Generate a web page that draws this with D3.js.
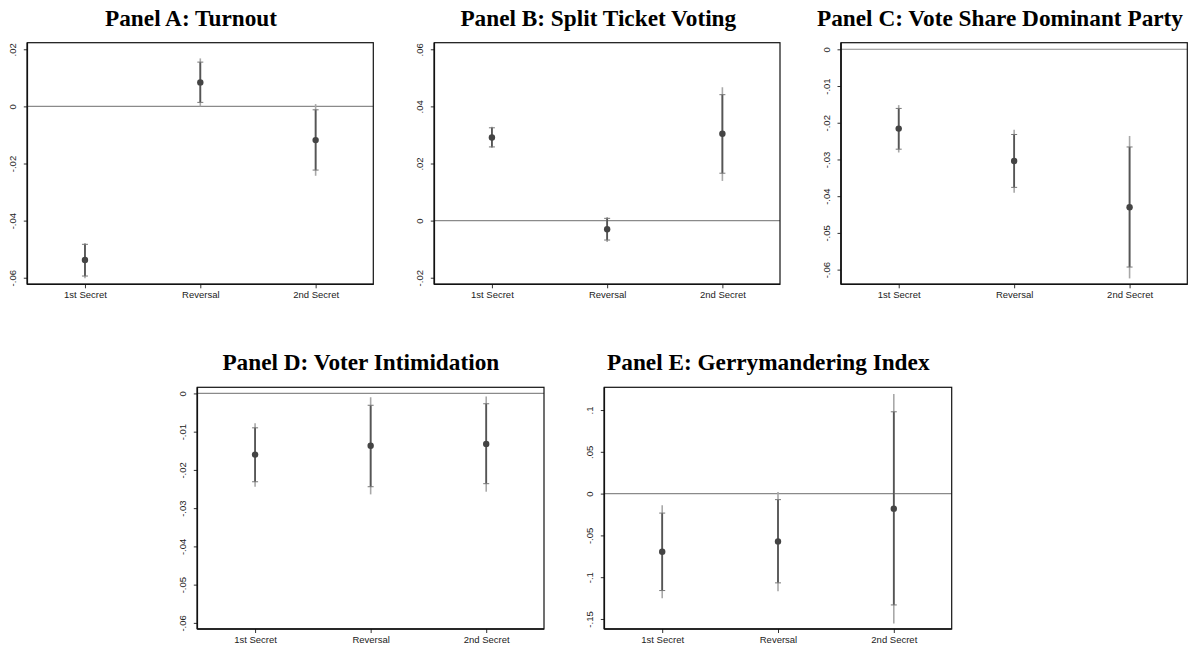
<!DOCTYPE html>
<html>
<head>
<meta charset="utf-8">
<script src="https://cdn.jsdelivr.net/npm/d3@7"></script>
<style>
  html, body { margin: 0; padding: 0; background: #fff; }
  svg { display: block; }
</style>
</head>
<body>
<svg id="chart" width="1198" height="646"></svg>
<script>
// ---------------- DATA ----------------
const categories = ["1st Secret", "Reversal", "2nd Secret"];
const panelTitles = ["Panel A: Turnout", "Panel B: Split Ticket Voting", "Panel C: Vote Share Dominant Party", "Panel D: Voter Intimidation", "Panel E: Gerrymandering Index"];

// Panel A: Turnout
const turnoutEst   = [-0.0538, 0.0084, -0.0118];
const turnoutLo90  = [-0.0594, 0.0014, -0.0223];
const turnoutHi90  = [-0.0483, 0.0155, -0.0012];
const turnoutLo95  = [-0.0602, 0.0000, -0.0243];
const turnoutHi95  = [-0.0478, 0.0168, 0.0008];
const turnoutTicks = [0.02, 0, -0.02, -0.04, -0.06];
const turnoutTickLabels = [".02", "0", "-.02", "-.04", "-.06"];
const turnoutRange = [-0.0623, 0.0223];

// Panel B: Split Ticket Voting
const splitEst   = [0.0291, -0.0030, 0.0304];
const splitLo90  = [0.0258, -0.0068, 0.0166];
const splitHi90  = [0.0325, 0.0008, 0.0441];
const splitLo95  = [0.0254, -0.0075, 0.0139];
const splitHi95  = [0.0329, 0.0013, 0.0467];
const splitTicks = [0.06, 0.04, 0.02, 0, -0.02];
const splitTickLabels = [".06", ".04", ".02", "0", "-.02"];
const splitRange = [-0.0223, 0.0623];

// Panel C: Vote Share Dominant Party
const shareEst   = [-0.0216, -0.0304, -0.0430];
const shareLo90  = [-0.0272, -0.0376, -0.0593];
const shareHi90  = [-0.0161, -0.0232, -0.0266];
const shareLo95  = [-0.0281, -0.0391, -0.0624];
const shareHi95  = [-0.0152, -0.0219, -0.0236];
const shareTicks = [0, -0.01, -0.02, -0.03, -0.04, -0.05, -0.06];
const shareTickLabels = ["0", "-.01", "-.02", "-.03", "-.04", "-.05", "-.06"];
const shareRange = [-0.0640, 0.0018];

// Panel D: Voter Intimidation
const intimEst   = [-0.0160, -0.0137, -0.0132];
const intimLo90  = [-0.0231, -0.0244, -0.0236];
const intimHi90  = [-0.0090, -0.0031, -0.0027];
const intimLo95  = [-0.0244, -0.0264, -0.0257];
const intimHi95  = [-0.0078, -0.0010, -0.0008];
const intimTicks = [0, -0.01, -0.02, -0.03, -0.04, -0.05, -0.06];
const intimTickLabels = ["0", "-.01", "-.02", "-.03", "-.04", "-.05", "-.06"];
const intimRange = [-0.0616, 0.0016];

// Panel E: Gerrymandering Index
const gerryEst   = [-0.0696, -0.0572, -0.0180];
const gerryLo90  = [-0.1160, -0.1068, -0.1332];
const gerryHi90  = [-0.0233, -0.0072, 0.0979];
const gerryLo95  = [-0.1253, -0.1169, -0.1553];
const gerryHi95  = [-0.0140, 0.0020, 0.1192];
const gerryTicks = [0.1, 0.05, 0, -0.05, -0.1, -0.15];
const gerryTickLabels = [".1", ".05", "0", "-.05", "-.1", "-.15"];
const gerryRange = [-0.1620, 0.1272];

// ---------------- LAYOUT ----------------
const layout = [
  {left: 27.3,  right: 373.3,  top: 42.7,  bottom: 284.3, tx: 191,   ty: 26},
  {left: 434.3, right: 780,    top: 42.7,  bottom: 284.3, tx: 598.3, ty: 26},
  {left: 841,   right: 1187.3, top: 42.7,  bottom: 284.3, tx: 1000,  ty: 26},
  {left: 197.3, right: 544,    top: 387.3, bottom: 629,   tx: 360.8, ty: 370},
  {left: 604.3, right: 951.7,  top: 387.3, bottom: 629,   tx: 768.3, ty: 370}
];
const titleWidths = [171, 280, 356.6, 281.7, 323.3];

const series = [
  [turnoutEst, turnoutLo90, turnoutHi90, turnoutLo95, turnoutHi95, turnoutTicks, turnoutTickLabels, turnoutRange],
  [splitEst, splitLo90, splitHi90, splitLo95, splitHi95, splitTicks, splitTickLabels, splitRange],
  [shareEst, shareLo90, shareHi90, shareLo95, shareHi95, shareTicks, shareTickLabels, shareRange],
  [intimEst, intimLo90, intimHi90, intimLo95, intimHi95, intimTicks, intimTickLabels, intimRange],
  [gerryEst, gerryLo90, gerryHi90, gerryLo95, gerryHi95, gerryTicks, gerryTickLabels, gerryRange]
];

const svg = d3.select("#chart");
const sansFont = "'Liberation Sans', Arial, Helvetica, sans-serif";
const serifFont = "'Palatino Linotype', Palatino, 'Book Antiqua', 'Liberation Serif', serif";

// Compute a common title font size from measured widths
const probe = svg.append("text").attr("font-family", serifFont).attr("font-weight", "bold").attr("font-size", 20);
let ratios = panelTitles.map((t, i) => {
  probe.text(t);
  return titleWidths[i] / probe.node().getComputedTextLength();
});
probe.remove();
const titleSize = 20 * d3.mean(ratios);

series.forEach((s, i) => {
  const [est, lo90, hi90, lo95, hi95, ticks, tickLabels, range] = s;
  const L = layout[i];
  const g = svg.append("g");

  const x = d3.scalePoint().domain(categories).range([L.left, L.right]).padding(0.5);
  const y = d3.scaleLinear().domain(range).range([L.bottom, L.top]);

  // title
  g.append("text")
    .attr("x", L.tx).attr("y", L.ty)
    .attr("text-anchor", "middle")
    .attr("font-family", serifFont).attr("font-weight", "bold")
    .attr("font-size", titleSize).attr("fill", "#000")
    .text(panelTitles[i]);

  // zero line
  g.append("line")
    .attr("x1", L.left).attr("x2", L.right)
    .attr("y1", y(0)).attr("y2", y(0))
    .attr("stroke", "#8a8a8a").attr("stroke-width", 1.1);

  // y axis
  const yAxis = d3.axisLeft(y).tickValues(ticks).tickSize(3.5).tickPadding(0)
    .tickFormat((d, k) => tickLabels[k]);
  const ya = g.append("g").attr("transform", `translate(${L.left},0)`).call(yAxis);
  ya.select(".domain").remove();
  ya.selectAll(".tick line").attr("stroke", "#333");
  ya.selectAll(".tick text")
    .attr("x", 0).attr("dy", null)
    .attr("transform", "translate(-15,0) rotate(-90)")
    .attr("text-anchor", "middle")
    .attr("dominant-baseline", "central")
    .attr("font-family", sansFont).attr("font-size", 9.5).attr("fill", "#222");

  // x axis
  const xAxis = d3.axisBottom(x).tickSize(4).tickPadding(3);
  const xa = g.append("g").attr("transform", `translate(0,${L.bottom})`).call(xAxis);
  xa.select(".domain").remove();
  xa.selectAll(".tick line").attr("stroke", "#333");
  xa.selectAll(".tick text")
    .attr("font-family", sansFont).attr("font-size", 9.5).attr("fill", "#222");

  // frame
  g.append("rect")
    .attr("x", L.left).attr("y", L.top)
    .attr("width", L.right - L.left).attr("height", L.bottom - L.top)
    .attr("fill", "none").attr("stroke", "#111").attr("stroke-width", 1.2);
  g.append("line").attr("x1", L.left).attr("x2", L.left).attr("y1", L.top).attr("y2", L.bottom)
    .attr("stroke", "#111").attr("stroke-width", 1.6);
  g.append("line").attr("x1", L.left).attr("x2", L.right).attr("y1", L.bottom).attr("y2", L.bottom)
    .attr("stroke", "#111").attr("stroke-width", 1.6);

  // 95% CI (long light line)
  g.selectAll(".ci95").data(categories).join("line")
    .attr("x1", d => x(d)).attr("x2", d => x(d))
    .attr("y1", (d, k) => y(lo95[k])).attr("y2", (d, k) => y(hi95[k]))
    .attr("stroke", "#a8a8a8").attr("stroke-width", 1.6);

  // 90% CI (dark line)
  g.selectAll(".ci90").data(categories).join("line")
    .attr("x1", d => x(d)).attr("x2", d => x(d))
    .attr("y1", (d, k) => y(lo90[k])).attr("y2", (d, k) => y(hi90[k]))
    .attr("stroke", "#555").attr("stroke-width", 1.8);

  // caps
  [lo90, hi90].forEach(arr => {
    g.selectAll(null).data(categories).join("line")
      .attr("x1", d => x(d) - 3).attr("x2", d => x(d) + 3)
      .attr("y1", (d, k) => y(arr[k])).attr("y2", (d, k) => y(arr[k]))
      .attr("stroke", "#777").attr("stroke-width", 1);
  });

  // points
  g.selectAll(".pt").data(categories).join("circle")
    .attr("cx", d => x(d)).attr("cy", (d, k) => y(est[k]))
    .attr("r", 3.2).attr("fill", "#444");
});
</script>
</body>
</html>
